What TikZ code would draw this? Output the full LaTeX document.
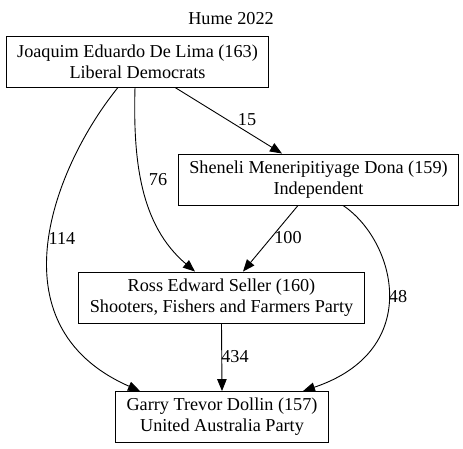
\documentclass[tikz,border=0pt]{standalone}
\usepackage{fontspec}
\setmainfont{Liberation Serif}
\usetikzlibrary{arrows.meta}
\tikzstyle{cand} = [rectangle, draw=black, line width=0.9pt, align=center, inner xsep=11pt, minimum height=51pt, font=\fontsize{18.2}{21}\selectfont]
\tikzstyle{pref} = [draw=black, line width=0.9pt, -{Triangle[length=12pt,width=9.5pt]}]
\tikzstyle{votes} = [inner sep=0pt, font=\fontsize{18.2}{21}\selectfont]

\begin{document}
\begin{tikzpicture}[x=1pt,y=-1pt]
\useasboundingbox (0,0) rectangle (463,448);

\node (title) [votes] at (231,19) {Hume 2022};

\node (lima) [cand] at (137.5,61.5) {Joaquim Eduardo De Lima (163)\\ Liberal Democrats};
\node (dona) [cand] at (318.5,179.5) {Sheneli Meneripitiyage Dona (159)\\ Independent};
\node (seller) [cand] at (221.5,297.5) {Ross Edward Seller (160)\\ Shooters, Fishers and Farmers Party};
\node (dollin) [cand] at (222,417) {Garry Trevor Dollin (157)\\ United Australia Party};

\draw[pref] ([xshift=37.5pt]lima.south) -- ([xshift=-36.5pt]dona.north) node[votes] at (247,120) {15};
\draw[pref] ([xshift=-2.5pt]lima.south) .. controls (133,160) and (140,225) .. ([xshift=-26.5pt]seller.north) node[votes] at (158,180) {76};
\draw[pref] ([xshift=-19.5pt]lima.south) .. controls (55,165) and (-10,325) .. ([xshift=-82pt]dollin.north) node[votes] at (62,238) {114};
\draw[pref] ([xshift=-20.5pt]dona.south) -- ([xshift=21.5pt]seller.north) node[votes] at (288,238) {100};
\draw[pref] ([xshift=24.5pt]dona.south) .. controls (395,240) and (425,350) .. ([xshift=81pt]dollin.north) node[votes] at (398,297) {48};
\draw[pref] (seller.south) -- (dollin.north) node[votes] at (235,357) {434};

\end{tikzpicture}
\end{document}
